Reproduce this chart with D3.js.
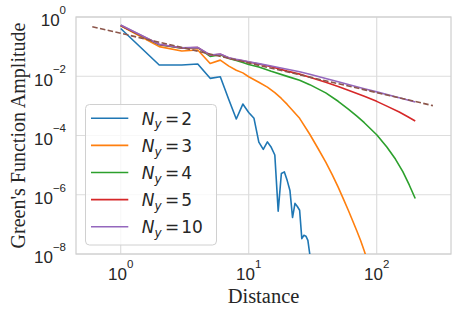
<!DOCTYPE html>
<html>
<head>
<meta charset="utf-8">
<script src="https://cdn.jsdelivr.net/npm/d3@7"></script>
<style>
  body { margin: 0; background: #fff; }
</style>
</head>
<body>
<svg id="chart" width="463" height="316"></svg>
<script>
// values
var dist2 = [1, 2, 3, 4, 5, 6, 7, 8, 9, 10, 11, 12, 13, 14, 15, 16, 17, 18, 19, 20,
             21, 22, 23, 24, 25, 26, 27, 28, 29, 30, 31];
var amp2 = [0.41, 0.024, 0.024, 0.026, 0.0085, 0.0096, 0.0016, 3.6e-4, 1.15e-3, 6e-4,
            3.8e-4, 6e-5, 3.4e-5, 6.1e-5, 4e-5, 2.2e-5, 2.8e-7, 5.2e-6, 5.9e-6, 3e-6,
            1.4e-6, 1.7e-7, 5.1e-7, 4e-7, 3e-7, 3.3e-8, 4.3e-8, 4e-8, 2.9e-8, 1e-8, 4e-9];

var dist3 = [1, 2, 3, 4, 5, 6, 7, 8, 9, 10, 12, 14, 16, 18, 20, 25, 30, 35, 40, 45,
             50, 55, 60, 65, 70, 75, 80, 85];
var amp3 = [0.5, 0.1, 0.071, 0.077, 0.027, 0.035, 0.022, 0.016, 0.013, 0.0096,
            0.0063, 0.0043, 0.0028, 0.00178, 0.00112, 3.8e-4, 1.1e-4, 3.5e-5, 1.26e-5, 4.7e-6,
            1.8e-6, 7.1e-7, 3.0e-7, 1.3e-7, 6e-8, 2.8e-8, 1.26e-8, 5.6e-9];

var dist4 = [1, 2, 3, 4, 5, 6, 7, 8, 9, 10, 12, 15, 20, 25, 30, 40, 50, 60, 70, 80,
             100, 120, 140, 160, 180, 200];
var amp4 = [0.52, 0.116, 0.089, 0.092, 0.047, 0.053, 0.040, 0.034, 0.029, 0.0249,
            0.0205, 0.0147, 0.0099, 0.0073, 0.0052, 0.00275, 0.00143, 7.8e-4, 4.5e-4, 2.7e-4,
            1.06e-4, 4.1e-5, 1.6e-5, 6e-6, 2.1e-6, 7.5e-7];

var dist5 = [1, 2, 3, 4, 5, 6, 7, 8, 9, 10, 12, 15, 20, 25, 30, 40, 50, 60, 80, 100,
             120, 150, 175, 200];
var amp5 = [0.52, 0.118, 0.09, 0.093, 0.051, 0.055, 0.041, 0.036, 0.033, 0.0302,
            0.0258, 0.0208, 0.0149, 0.0118, 0.00929, 0.00622, 0.00451, 0.00339, 0.00211, 0.00142,
            9.8e-4, 6.2e-4, 4.3e-4, 3.1e-4];

var dist10 = [1, 2, 3, 4, 5, 6, 7, 8, 9, 10, 12, 15, 20, 25, 30, 40, 50, 60, 80, 100,
              150, 200];
var amp10 = [0.537, 0.12, 0.0918, 0.0947, 0.052, 0.0562, 0.0422, 0.0372, 0.0339, 0.0309,
             0.0267, 0.0221, 0.0172, 0.0142, 0.0116, 0.00836, 0.00652, 0.00528, 0.00381, 0.00297,
             0.00188, 0.00135];

// reference power law (dashed)
var distRef = [0.6, 275];
var ampRef = [0.47, 0.00102];

var legendLabels = ["2", "3", "4", "5", "10"];
var xTicks = [1, 10, 100];
var yTicks = [1, 1e-2, 1e-4, 1e-6, 1e-8];

var series = [
  {d: dist2, v: amp2, c: "#1f77b4"},
  {d: dist3, v: amp3, c: "#ff7f0e"},
  {d: dist4, v: amp4, c: "#2ca02c"},
  {d: dist5, v: amp5, c: "#d62728"},
  {d: dist10, v: amp10, c: "#9467bd"}
];

var plotL = 76, plotR = 451, plotT = 17, plotB = 254;

var svg = d3.select("#chart");

var x = d3.scaleLog().domain([0.4476, 380.6]).range([plotL, plotR]);
var y = d3.scaleLog().domain([1e-8, 1]).range([plotB, plotT]);

svg.append("defs").append("clipPath").attr("id", "plotclip")
   .append("rect")
   .attr("x", plotL).attr("y", plotT)
   .attr("width", plotR - plotL).attr("height", plotB - plotT);

// grid
svg.append("g").selectAll("line")
   .data(xTicks).enter().append("line")
   .attr("x1", function(d) { return x(d); })
   .attr("x2", function(d) { return x(d); })
   .attr("y1", plotT).attr("y2", plotB)
   .attr("stroke", "#dddddd").attr("stroke-width", 1.2);

svg.append("g").selectAll("line")
   .data(yTicks).enter().append("line")
   .attr("y1", function(d) { return y(d); })
   .attr("y2", function(d) { return y(d); })
   .attr("x1", plotL).attr("x2", plotR)
   .attr("stroke", "#dddddd").attr("stroke-width", 1.2);

// frame
svg.append("rect")
   .attr("x", plotL).attr("y", plotT)
   .attr("width", plotR - plotL).attr("height", plotB - plotT)
   .attr("fill", "none")
   .attr("stroke", "#d0d0d0").attr("stroke-width", 1.25);

// lines
var line = d3.line()
   .x(function(p) { return x(p[0]); })
   .y(function(p) { return y(p[1]); });

var plot = svg.append("g").attr("clip-path", "url(#plotclip)");

series.forEach(function(s) {
  plot.append("path")
     .datum(d3.zip(s.d, s.v))
     .attr("d", line)
     .attr("fill", "none")
     .attr("stroke", s.c)
     .attr("stroke-width", 1.6)
     .attr("stroke-linejoin", "round");
});

plot.append("path")
   .datum(d3.zip(distRef, ampRef))
   .attr("d", line)
   .attr("fill", "none")
   .attr("stroke", "#8c564b")
   .attr("stroke-width", 1.6)
   .attr("stroke-dasharray", "5.5,2.4");

// tick labels
var tickFont = "'Liberation Sans', Arial, sans-serif";

var xl = svg.append("g").selectAll("text")
   .data(xTicks).enter().append("text")
   .attr("x", function(d) { return x(d); })
   .attr("y", plotB + 26)
   .attr("text-anchor", "middle")
   .attr("font-family", tickFont)
   .attr("font-size", "17px")
   .attr("fill", "#262626");
xl.append("tspan").text("10");
xl.append("tspan")
  .attr("font-size", "11.5px")
  .attr("dy", -12)
  .text(function(d) { return String(Math.round(Math.log10(d))); });

var yl = svg.append("g").selectAll("text")
   .data(yTicks).enter().append("text")
   .attr("x", plotL - 10)
   .attr("y", function(d) { return y(d) + 9.3; })
   .attr("text-anchor", "end")
   .attr("font-family", tickFont)
   .attr("font-size", "17px")
   .attr("fill", "#262626");
yl.append("tspan").text("10");
yl.append("tspan")
  .attr("font-size", "11.5px")
  .attr("dy", -12.5)
  .text(function(d) {
    var e = Math.round(Math.log10(d));
    return e < 0 ? "\u2212" + (-e) : String(e);
  });

// axis titles
svg.append("text")
   .attr("x", (plotL + plotR) / 2)
   .attr("y", 303)
   .attr("text-anchor", "middle")
   .attr("font-family", "'Liberation Serif', 'Times New Roman', serif")
   .attr("font-size", "20.5px")
   .attr("fill", "#262626")
   .text("Distance");

svg.append("text")
   .attr("transform", "translate(25," + ((plotT + plotB) / 2) + ") rotate(-90)")
   .attr("text-anchor", "middle")
   .attr("font-family", "'Liberation Serif', 'Times New Roman', serif")
   .attr("font-size", "20px")
   .attr("fill", "#262626")
   .text("Green's Function Amplitude");

// legend
var lg = svg.append("g");
lg.append("rect")
  .attr("x", 85.5).attr("y", 104.5)
  .attr("width", 131).attr("height", 140.5)
  .attr("rx", 4)
  .attr("fill", "#fff").attr("fill-opacity", 0.8)
  .attr("stroke", "#d0d0d0").attr("stroke-width", 1);

var items = lg.selectAll("g.item")
  .data(series).enter().append("g")
  .attr("class", "item")
  .attr("transform", function(d, i) { return "translate(0," + (118.3 + i * 27.1) + ")"; });

items.append("line")
  .attr("x1", 91).attr("x2", 128.3)
  .attr("y1", 0).attr("y2", 0)
  .attr("stroke", function(d) { return d.c; })
  .attr("stroke-width", 1.6);

var lt = items.append("text")
  .attr("x", 141.7).attr("y", 6.6)
  .attr("font-family", "'DejaVu Sans', sans-serif")
  .attr("font-size", "17px")
  .attr("fill", "#262626");
lt.append("tspan").attr("font-style", "italic").text("N");
lt.append("tspan").attr("font-style", "italic").attr("font-size", "12px").attr("dy", 3.5).text("y");
lt.append("tspan").attr("dy", -3.5).attr("dx", 3.5).text("=");
lt.append("tspan").attr("dx", 2).text(function(d, i) { return legendLabels[i]; });
</script>
</body>
</html>
